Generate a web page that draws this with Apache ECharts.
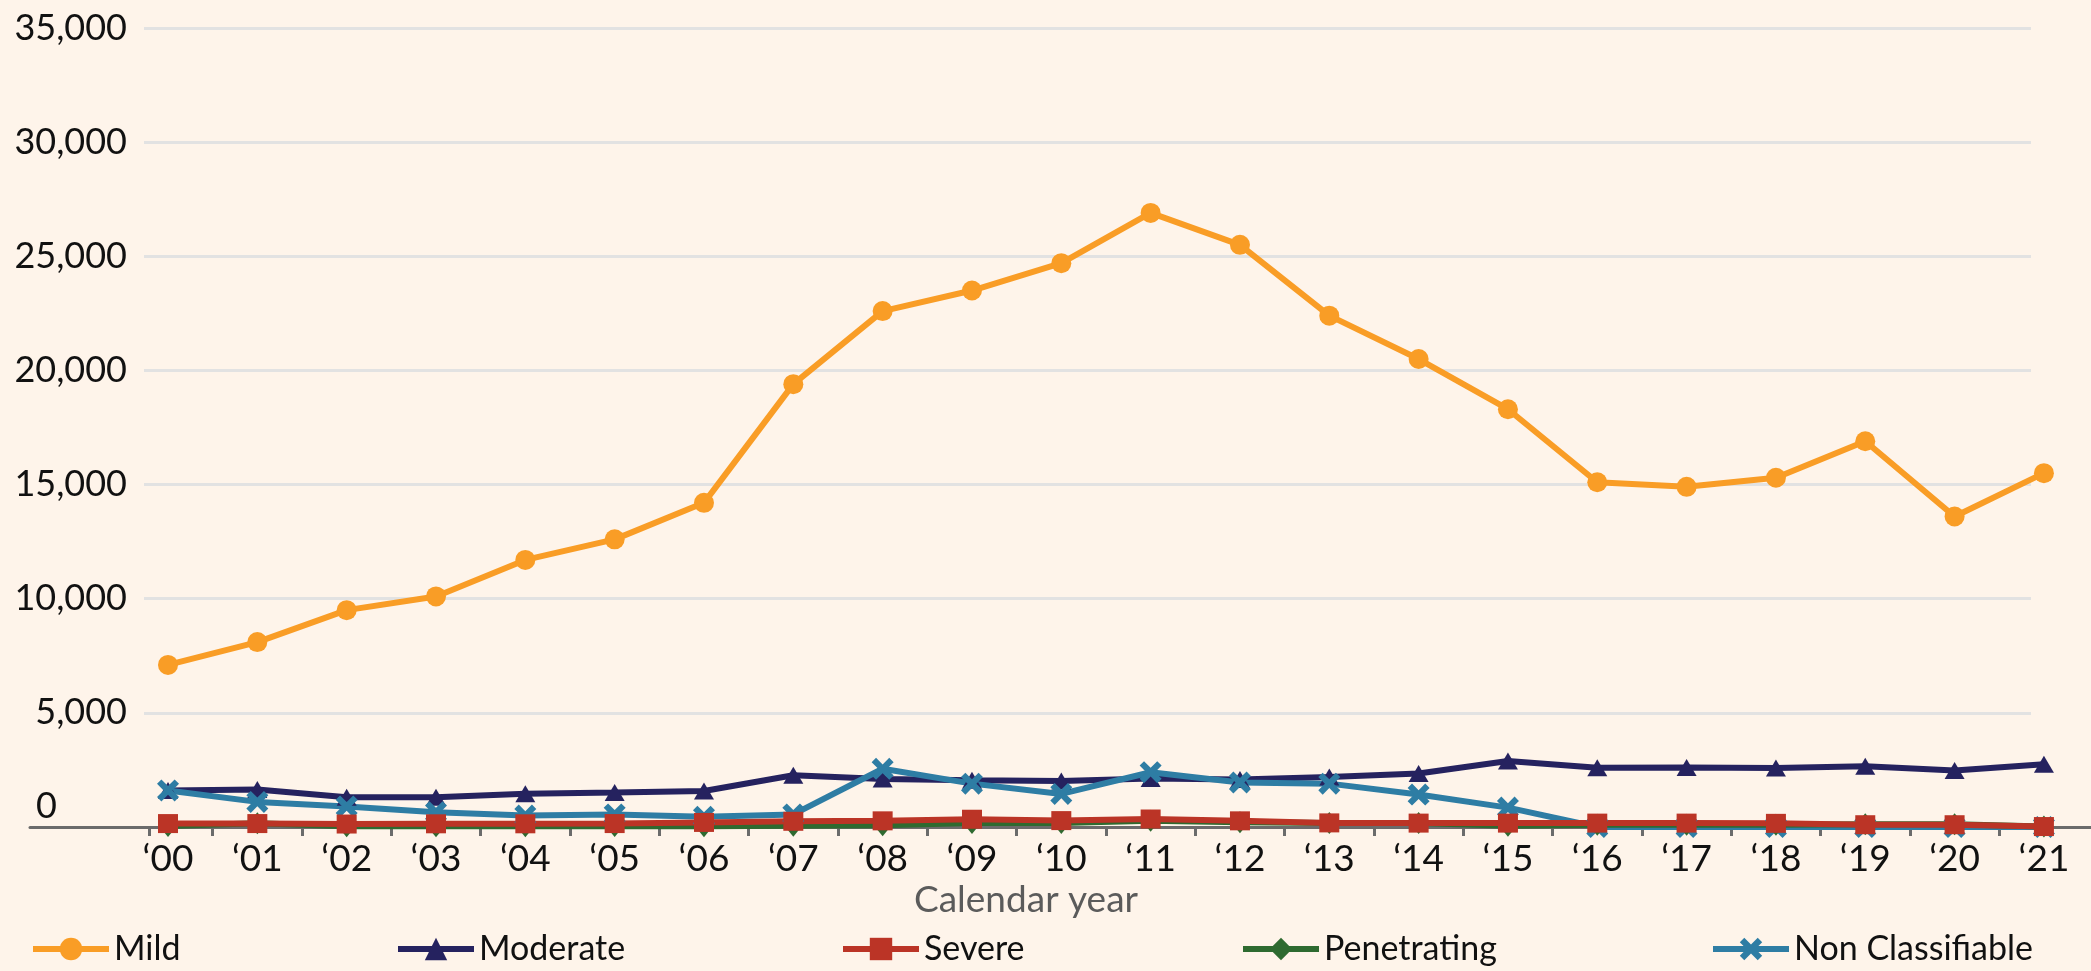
<!DOCTYPE html>
<html>
<head>
<meta charset="utf-8">
<script src="https://cdn.jsdelivr.net/npm/echarts@6/dist/echarts.min.js"></script>
<style>
  html, body { margin: 0; padding: 0; background: #FEF4EA; }
  #chart { width: 2091px; height: 971px; }
</style>
</head>
<body>
<div id="chart"></div>
<script>
const years = ['00', '01', '02', '03', '04', '05', '06', '07', '08', '09', '10',
  '11', '12', '13', '14', '15', '16', '17', '18', '19', '20', '21']
const yearLabels = years.map((y) => '\u2018' + y)

const mild = [7100, 8100, 9500, 10100, 11700, 12600, 14200, 19400, 22600, 23500, 24700,
  26900, 25500, 22400, 20500, 18300, 15100, 14900, 15300, 16900, 13600, 15500]
const moderate = [1600, 1640, 1300, 1300, 1460, 1510, 1580, 2270, 2100, 2050, 2020,
  2120, 2080, 2190, 2340, 2890, 2600, 2610, 2580, 2660, 2480, 2750]
const severe = [150, 150, 130, 140, 140, 150, 200, 250, 270, 340, 280,
  350, 270, 180, 170, 170, 170, 170, 160, 100, 100, 20]
const penetrating = [40, 160, 30, 30, 30, 40, 30, 60, 80, 170, 175,
  270, 205, 175, 175, 60, 100, 100, 100, 120, 120, 20]
const nonClassifiable = [1600, 1100, 900, 650, 500, 550, 450, 550, 2550, 1900, 1450,
  2400, 1950, 1900, 1420, 850, 0, 0, 0, 0, 0, 0]

const yMax = 35000
const yStep = 5000

const FONT = 'Lato'
const X_MARK = 'path://M2,0 L5,3 L8,0 L10,2 L7,5 L10,8 L8,10 L5,7 L2,10 L0,8 L3,5 L0,2 Z'

// x axis: first point at 168px, 89.33px per year, axis line runs 30..2091
const xMin = -1.545
const xMax = 21.527
const tickValues = [-0.21].concat(years.slice(0, -1).map((_, i) => i + 0.5))

const seriesDefs = [
  { name: 'Mild', data: mild, color: '#F99D26', symbol: 'circle', size: 20 },
  { name: 'Moderate', data: moderate, color: '#25225F', symbol: 'triangle', size: [20, 17] },
  { name: 'Non Classifiable', data: nonClassifiable, color: '#2E7DA4', symbol: X_MARK, size: 22 },
  { name: 'Penetrating', data: penetrating, color: '#2E6A30', symbol: 'diamond', size: [18, 22] },
  { name: 'Severe', data: severe, color: '#BB3426', symbol: 'rect', size: [20, 19] }
]

const legendNames = ['Mild', 'Moderate', 'Severe', 'Penetrating', 'Non Classifiable']
const legendLeft = [30, 395, 840, 1240, 1710]

const chart = echarts.init(document.getElementById('chart'))

chart.setOption({
  backgroundColor: '#FEF4EA',
  animation: false,
  textStyle: { fontFamily: FONT },
  title: {
    text: 'Calendar year',
    left: 914,
    top: 882,
    padding: 0,
    textStyle: { fontFamily: FONT, fontSize: 37, fontWeight: 'normal', color: '#5B5B5B' }
  },
  legend: legendNames.map((name, i) => ({
    data: [name],
    left: legendLeft[i],
    top: 932,
    padding: 0,
    itemWidth: 76,
    itemHeight: 28,
    itemGap: 0,
    lineStyle: { width: 6 },
    textStyle: { fontFamily: FONT, fontSize: 34, color: '#111' }
  })),
  grid: [
    { left: 144, right: 60, top: 28, bottom: 144 },
    { left: 30, right: 0, top: 28, bottom: 144 }
  ],
  xAxis: [
    { gridIndex: 0, type: 'value', show: false, min: 0, max: 1 },
    {
      gridIndex: 1,
      type: 'value',
      min: xMin,
      max: xMax,
      splitLine: { show: false },
      axisLine: { show: true, lineStyle: { color: '#6B6B6B', width: 3 } },
      axisTick: {
        show: true,
        customValues: tickValues,
        length: 9,
        lineStyle: { color: '#6B6B6B', width: 3 }
      },
      axisLabel: {
        customValues: years.map((_, i) => i),
        formatter: (v) => yearLabels[Math.round(v)],
        fontFamily: FONT,
        fontSize: 37,
        color: '#111',
        margin: 14
      }
    }
  ],
  yAxis: [
    {
      gridIndex: 0,
      type: 'value',
      min: 0,
      max: yMax,
      interval: yStep,
      axisLine: { show: false },
      axisTick: { show: false },
      splitLine: { lineStyle: { color: '#E2E2E2', width: 3 } },
      axisLabel: {
        margin: 17,
        fontFamily: FONT,
        fontSize: 36,
        color: '#111',
        formatter: (v) => (v === 0 ? '{zero|0}' : v.toLocaleString('en-US')),
        rich: {
          zero: { fontFamily: FONT, fontSize: 36, color: '#111', padding: [0, 70, 42, 0] }
        }
      }
    },
    { gridIndex: 1, type: 'value', min: 0, max: yMax, show: false }
  ],
  series: seriesDefs.map((s) => ({
    name: s.name,
    type: 'line',
    xAxisIndex: 1,
    yAxisIndex: 1,
    data: s.data.map((v, i) => [i, v]),
    symbol: s.symbol,
    symbolSize: s.size,
    showAllSymbol: true,
    lineStyle: { color: s.color, width: 6 },
    itemStyle: { color: s.color },
    emphasis: { disabled: true }
  }))
})
</script>
</body>
</html>
